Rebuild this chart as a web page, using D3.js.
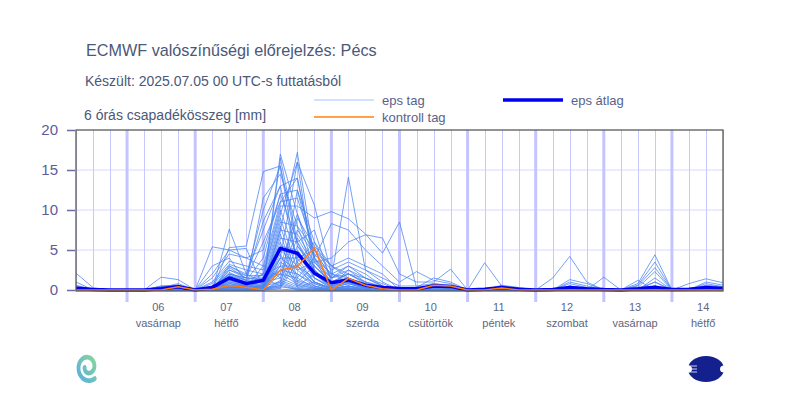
<!DOCTYPE html>
<html>
<head>
<meta charset="utf-8">
<script src="https://cdn.jsdelivr.net/npm/d3@7"></script>
<style>
    body {margin: 0; background: #fff;}
    svg {font-family: "Liberation Sans", Arial, sans-serif; display: block;}
    .title {fill: #4b5878; font-size: 16.2px;}
    .sub {fill: #4b5878; font-size: 14px;}
    .legend text {fill: #56628c; font-size: 13px;}
    .y-axis text {fill: #5c5c9c; font-size: 15px;}
    .y-axis line {stroke: #6a6aa0; stroke-width: 1.5;}
    .y-axis path {display: none;}
    .day text {fill: #5e6680; font-size: 11px; text-anchor: middle;}
</style>
</head>
<body>
<div id="chart"></div>
<script>
    // 6 hourly steps, from 2025.07.05 06 UTC
    let runStart = Date.UTC(2025, 6, 5, 6);
    let times = d3.range(39).map(function(i) { return new Date(runStart + i * 6 * 3600e3); });

    let dayNums = ["06", "07", "08", "09", "10", "11", "12", "13", "14"];
    let dayNames = ["vasárnap", "hétfő", "kedd", "szerda", "csütörtök", "péntek", "szombat", "vasárnap", "hétfő"];
    let yTicks = [0, 5, 10, 15, 20];

    let ensMean = [0.25,0.05,0,0,0,0.15,0.4, 0,0.3,1.5,0.8, 1.2,5.2,4.6,2.1, 0.9,1.25,0.6,0.3, 0.2,0.15,0.5,0.45,
        0,0.1,0.3,0.1, 0,0.05,0.3,0.15, 0.05,0,0.15,0.35, 0.05,0.1,0.3,0.2];

    let control = [0,0,0,0,0,0,0.4, 0,0.1,0.55,0.35, 0,2.5,2.9,5.3, 0,1.45,0.6,0.15, 0,0,0.6,0.5,
        0,0,0.25,0, 0,0,0,0, 0,0,0,0, 0,0,0,0];

    let members = [
        [2.1,0.3,0,0,0,0,0, 0,0,1.2,0.4, 0.5,17.0,9.5,2.5, 0.3,0.8,0.2,0, 0,0,0.4,0.2, 0,0,0.2,0, 0,0,0,0, 0,0,0,0.3, 0,0,0.2,0],
        [1.0,0,0,0,0,0,0.2, 0,0,0.8,0.3, 0.2,7.5,17.2,4.0, 0,0.5,0,0, 0,0,0.6,0.3, 0,0,0.3,0, 0,0,0,0, 0,0,0,0, 0,0,0.4,0.2],
        [0.6,0,0,0,0,0.4,0.6, 0,5.4,5.0,5.2, 0.3,16.5,6.0,1.5, 0.5,1.5,0.6,0, 0,0,0.5,0.4, 0,0,0.4,0.2, 0,0,0.3,0, 0,0,0,0.5, 0,0,0,0],
        [0.3,0,0,0,0,1.6,1.3, 0,0,7.6,2.0, 1.0,4.0,16.0,10.6, 2.0,1.0,0.3,0, 0,0,0.3,0.2, 0,0,0.5,0.3, 0,0,0,0, 0,0,0,0, 0,0,0,0],
        [0,0,0,0,0,0.5,0.4, 0,0,5.3,5.5, 14.8,15.5,3.0,1.0, 0.2,0.5,0,0, 0,0,0.8,0.5, 0,0,0.2,0, 0,0,0.5,0.2, 0,0,0.2,1.0, 0,0,0.3,0],
        [0,0,0,0,0,0.3,0.8, 0,3.0,4.0,1.0, 11.5,14.5,8.0,2.0, 0.5,2.5,1.0,0.5, 0,0,0.6,0.4, 0,0,0.3,0.2, 0,0,0,0, 0,0,0,0, 0,0,0.5,0.3],
        [0,0,0,0,0,0.2,0.5, 0,0,2.5,1.5, 8.6,13.0,14.0,3.5, 1.0,1.5,0.5,0, 0,0,0.5,0.3, 0,0,0.3,0, 0,0,0,0, 0,0,0,0, 0,0,0,0],
        [0,0,0,0,0,0,0.3, 0,2.0,5.0,4.0, 5.0,12.0,12.5,6.0, 1.5,3.0,1.5,0.8, 0,0,0.7,0.5, 0,0,0.6,0.3, 0,0,0,0, 0,0,0,0, 0,0,0,0],
        [0,0,0,0,0,0.2,0.3, 0,1.5,4.5,4.0, 3.0,11.0,11.5,5.0, 3.0,2.0,1.0,0.3, 0,0,0.4,0.3, 0,0,0.2,0, 0,0,0,0, 0,0,0,0.3, 0,0,0,0],
        [0,0,0,0,0,0,0, 0,1.0,3.6,3.0, 2.5,10.5,10.5,9.0, 9.8,8.9,7.0,4.6, 8.5,0.3,1.5,1.0, 0,0,0.3,0.2, 0,0,0,0, 0,0,0,0, 0,0,0,0],
        [0,0,0,0,0,0,0, 0,0.8,3.2,2.5, 2.0,10.0,4.0,5.0, 1.5,14.1,2.5,1.5, 0.5,0.5,0.8,0.6, 0,0,0.4,0.2, 0,0,0,0, 0,0,0,0, 0,0,0,0],
        [0,0,0,0,0,0,0.2, 0,0.5,3.0,1.8, 1.8,3.0,9.5,4.0, 8.3,7.5,5.0,3.0, 1.0,2.3,1.2,0.8, 0,0,0.3,0.2, 0,0,0,0, 0,0,0,0, 0,0,0,0],
        [0,0,0,0,0,0,0, 0,0,2.8,1.5, 1.5,9.0,2.5,3.5, 4.0,6.0,6.9,6.5, 2.0,1.0,1.0,2.6, 0,0,0.2,0, 0,0,0,0, 0,0,0,0, 0,0,0,0],
        [0,0,0,0,0,0,0, 0,0.5,2.0,1.5, 1.2,2.0,9.0,5.5, 3.0,4.0,3.0,2.0, 0,0,0.6,0.4, 0,0,0.2,0, 0,0,0,0, 0,0,0,0, 0,0,0.3,0],
        [0,0,0,0,0,0,0, 0,0,2.0,1.2, 1.0,8.5,8.0,5.0, 2.5,3.5,2.5,1.0, 0,0,0.5,0.3, 0,0,0.3,0.2, 0,0,0,0, 0,0,0,0, 0,0,0,0],
        [0,0,0,0,0,0,0, 0,0,1.8,1.0, 1.0,1.5,7.5,4.5, 2.0,3.0,2.0,0.5, 0,0,0.4,0.3, 0,0,0.2,0, 0,0,0,0, 0,0,0,0, 0,0,0,0],
        [0,0,0,0,0,0,0, 0,0,1.5,1.0, 0.8,8.0,1.5,4.0, 1.5,2.5,1.5,0.5, 0,0,0.6,0.5, 0,0,0.2,0, 0,0,0,0, 0,0,0,0, 0,0,0,0],
        [0,0,0,0,0,0,0, 0,0,1.5,0.8, 0.6,7.5,7.0,3.5, 1.5,2.0,1.0,0.3, 0,0,0.5,0.4, 0,3.4,0.5,0.2, 0,0,0,0, 0,0,0,0, 0,0,0,0],
        [0,0,0,0,0,0,0, 0,0,1.2,0.8, 0.5,1.0,6.5,3.0, 1.0,2.0,0.8,0, 0,0,0.4,0.3, 0,0,0.2,0, 0,1.5,4.2,1.0, 0,0,0,0, 0,0,0,0],
        [0,0,0,0,0,0,0, 0,0,1.0,0.6, 0.5,7.0,1.0,3.0, 1.0,1.5,0.5,0, 0,0,0.5,0.3, 0,0,0.3,0.2, 0,0,1.3,0.8, 0,0,0,0, 0,0,0,0],
        [0,0,0,0,0,0,0, 0,0,1.0,0.5, 0.4,6.5,6.0,2.5, 0.8,1.5,0.5,0, 0,0,0.6,0.4, 0,0,0.3,0, 0,0,1.0,0.5, 0,0,0,0, 0,0,0,0],
        [0,0,0,0,0,0,0, 0,0,0.8,0.5, 0.3,0.5,5.5,2.5, 0.5,1.0,0.3,0, 0,0,0.5,0.4, 0,0,0.2,0, 0,0,0.8,0.3, 0,0,0,0, 0,0,0,0],
        [0,0,0,0,0,0,0, 0,0,0.8,0.4, 0.3,6.0,0.5,2.0, 0.5,1.0,0.3,0, 0,0,0.4,0.3, 0,0,0.2,0, 0,0,0,0, 1.6,0,0.8,4.4, 0,0,0,0],
        [0,0,0,0,0,0,0, 0,0,0.6,0.3, 0.2,5.5,5.0,2.0, 0.3,0.8,0.2,0, 0,0,0.5,0.3, 0,0,0.2,0, 0,0,0,0, 0,0,0.6,3.5, 0,0,0,0],
        [0,0,0,0,0,0,0, 0,0,0.5,0.3, 0.2,0.3,4.5,1.5, 0.3,0.8,0.2,0, 0,0,0.4,0.3, 0,0,0.2,0, 0,0,0,0, 0,0,0.5,2.8, 0,0,0,0],
        [0,0,0,0,0,0,0, 0,0,0.5,0.2, 0.1,5.0,3.0,1.5, 0.2,0.5,0.2,0, 0,0,0.5,0.3, 0,0,0.3,0, 0,0,0,0, 0,0,0.3,2.3, 0,0,0,0],
        [0,0,0,0,0,0,0, 0,0,0.4,0.2, 0.1,4.5,0.3,1.0, 0.2,0.5,0.1,0, 0,0,0.6,0.3, 0,0,0.2,0, 0,0,0,0, 0,0,0,1.5, 0,0.8,1.4,0.9],
        [0,0,0,0,0,0,0, 0,0,0.3,0.2, 0,4.0,4.0,1.0, 0.2,0.3,0.1,0, 0,0,0.4,0.2, 0,0,0.2,0, 0,0,0,0, 0,0,0,1.0, 0,0,1.0,0.6],
        [0,0,0,0,0,0,0, 0,0,0.3,0.1, 0,0.2,3.5,1.0, 0.1,0.3,0,0, 0,0,0.5,0.2, 0,0,0.2,0, 0,0,0,0, 0,0,0,0.5, 0,0,0.8,0.4],
        [0,0,0,0,0,0,0, 0,0,0.2,0.1, 0,4.0,2.5,0.8, 0.1,0.2,0,0, 0,0,0.4,0.2, 0,0,0.2,0, 0,0,0,0, 0,0,0,0.3, 0,0,0.6,0.4],
        [0,0,0,0,0,0,0, 0,0,0.2,0, 0,3.5,2.0,0.8, 0,0.2,0,0, 0,0,0.3,0.2, 0,0,0,0, 0,0,0,0, 0,0,1.2,0, 0,0,0,0],
        [0,0,0,0,0,0,0, 0,0,0,0, 0,3.0,3.0,0.5, 0,0.2,0,0, 0,0,0.5,0.3, 0,0,0,0, 0,0,0,0, 0,0,0,0, 0,0,0,0],
        [0,0,0,0,0,0,0, 0,0,0,0, 0.5,3.0,1.2,0.5, 0,0,0,0, 0,0,0.4,0.2, 0,0,0,0, 0,0,0.5,0, 0,0,0,0, 0,0,0,0],
        [0,0,0,0,0,0.2,0.2, 0,0,0,0, 0.8,2.5,2.0,0.5, 0,0,0,0, 0,0,0.3,0.2, 0,0,0,0, 0,0,0,0, 0,0,0,0, 0,0,0,0],
        [0,0,0,0,0,0,0, 0,0,0.3,0.3, 1.2,2.5,1.0,0.3, 0,0,0,0, 0,0,0.2,0, 0,0,0,0, 0,0,0,0, 0,0,0,0, 0,0,0,0],
        [0,0,0,0,0,0,0, 0,0,0.5,0.5, 2.0,2.0,1.5,0.3, 0,0,0,0, 0,0,0.3,0.2, 0,0,0,0, 0,0,0,0, 0,0,0,0, 0,0,0,0],
        [0,0,0,0,0,0,0, 0,0,0,0, 0,2.0,0.8,0.2, 0,0,0,0, 0,0,0.2,0, 0,0,0,0, 0,0,0,0, 0,0,0,0, 0,0,0,0],
        [0,0,0,0,0,0,0, 0,0,0.6,0.4, 3.0,1.5,0.6,0.2, 0,0,0,0, 0,0,0,0, 0,0,0,0, 0,0,0,0, 0,0,0,0, 0,0,0,0],
        [0,0,0,0,0,0,0, 0,0,0,0, 0,1.2,0.4,0.1, 0,0,0,0, 0,0,0.3,0.2, 0,0,0,0, 0,0,0,0, 0,0,0,0, 0,0,0,0],
        [0,0,0,0,0,0,0, 0,0,0,0, 0,1.0,0.2,0.1, 0,0,0,0, 0,0,0,0, 0,0,0,0, 0,0,0,0, 0,0,0,0, 0,0,0,0],
        [0,0,0,0,0,0,0, 0,0,0,0, 0,0.8,0.1,0, 0,0,0,0, 0,0,0,0, 0,0,0,0, 0,0,0,0, 0,0,0,0, 0,0,0,0],
        [0,0,0,0,0,0,0, 0,0,0,0, 0,0.6,0,0, 0,0,0,0, 0,0,0,0, 0,0,0,0, 0,0,0,0, 0,0,0,0, 0,0,0,0],
        [0,0,0,0,0,0,0, 0,0,0,0, 0,0.4,0.1,0, 0,0,0,0, 0,0,0,0, 0,0,0,0, 0,0,0,0, 0,0,0,0, 0,0,0,0],
        [0,0,0,0,0,0,0, 0,0,0,0, 0,0.1,0,0, 0,0,0,0, 0,0,0,0, 0,0,0,0, 0,0,0,0, 0,0,0,0, 0,0,0,0],
        [0,0,0,0,0,0.3,0.5, 0,0,2.2,1.2, 4.0,12.0,6.0,7.5, 1.0,2.0,1.5,0.5, 0,0,0.6,0.4, 0,0,0.3,0, 0,0,0,0, 0,0,0,0, 0,0,0,0],
        [0,0,0,0,0,0.4,0.6, 0,0,3.0,2.0, 7.5,13.0,3.5,6.0, 3.0,1.5,0.5,0, 0,0,0.5,0.3, 0,0,0.3,0.2, 0,0,0,0, 0,0,0,0, 0,0,0,0],
        [0,0,0,0,0,0.2,0.3, 0,0,2.0,1.5, 6.0,11.0,14.0,4.0, 1.0,1.0,0.5,0, 0,0,0.5,0.3, 0,0,0.2,0, 0,0,0,0, 0,0,0,0, 0,0,0,0],
        [0,0,0,0,0,0.2,0.3, 0,0,1.5,1.0, 1.5,0.5,12.5,4.0, 2.0,1.5,0.8,0.2, 0,0,0.5,0.3, 0,0,0.2,0, 0,0,0,0, 0,0,0,0, 0,0,0,0],
        [0,0,0,0,0,0.3,0.4, 0,0,1.8,1.2, 2.0,9.5,16.0,2.0, 0.5,1.0,0.3,0, 0,0,0.4,0.3, 0,0,0.2,0, 0,0,0,0, 0,0,0,0, 0,0,0,0],
        [0.2,0,0,0,0,0.5,0.6, 0,0,2.5,1.8, 10.0,15.5,5.5,3.0, 0.8,1.2,0.5,0, 0,0,0.4,0.3, 0,0,0.2,0, 0,0,0,0, 0,0,0,0, 0,0,0,0]
    ];

    let width = 800, height = 398;
    let plot = {left: 76, right: 723, top: 130, bottom: 290};

    let x = d3.scaleUtc()
        .domain([times[0], times[times.length - 1]])
        .range([plot.left, plot.right]);

    let y = d3.scaleLinear()
        .domain([0, 20])
        .range([plot.bottom, plot.top]);

    let svg = d3.select("#chart").append("svg")
        .attr("width", width)
        .attr("height", height);

    // titles
    svg.append("text").attr("class", "title").attr("x", 86).attr("y", 56)
        .text("ECMWF valószínűségi előrejelzés: Pécs");
    svg.append("text").attr("class", "sub").attr("x", 85).attr("y", 86)
        .text("Készült: 2025.07.05 00 UTC-s futtatásból");
    svg.append("text").attr("class", "sub").attr("x", 84).attr("y", 119.5)
        .text("6 órás csapadékösszeg [mm]");

    // legend
    let legend = svg.append("g").attr("class", "legend");
    let legendItems = [
        {label: "eps tag", x: 314, y: 100, color: "#a6c2ff", w: 1},
        {label: "kontroll tag", x: 314, y: 117, color: "#ff8010", w: 1.5},
        {label: "eps átlag", x: 503, y: 100, color: "#0000f0", w: 3.5}
    ];
    legendItems.forEach(function(d) {
        legend.append("line")
            .attr("x1", d.x).attr("x2", d.x + 60)
            .attr("y1", d.y).attr("y2", d.y)
            .attr("stroke", d.color).attr("stroke-width", d.w);
        legend.append("text")
            .attr("x", d.x + 68).attr("y", d.y + 4.5)
            .text(d.label);
    });

    // grid
    let grid = svg.append("g");
    grid.selectAll(".hgrid")
        .data(yTicks.slice(1, -1))
        .enter().append("line")
        .attr("x1", plot.left).attr("x2", plot.right)
        .attr("y1", function(d) { return y(d); })
        .attr("y2", function(d) { return y(d); })
        .attr("stroke", "#d8d8ff").attr("stroke-width", 1);

    grid.selectAll(".vgrid")
        .data(times)
        .enter().append("line")
        .attr("x1", function(d) { return Math.round(x(d)) + 0.5; })
        .attr("x2", function(d) { return Math.round(x(d)) + 0.5; })
        .attr("y1", plot.top).attr("y2", plot.bottom)
        .attr("stroke", "#c8c8ff").attr("stroke-width", 1);

    let days = d3.utcDay.range(Date.UTC(2025, 6, 6), Date.UTC(2025, 6, 15));

    grid.selectAll(".dayline")
        .data(days)
        .enter().append("line")
        .attr("x1", function(d) { return x(d); })
        .attr("x2", function(d) { return x(d); })
        .attr("y1", plot.top).attr("y2", plot.bottom + 12)
        .attr("stroke", "#c4c4ff").attr("stroke-width", 3);

    // day labels
    let dayG = svg.append("g").attr("class", "day")
        .selectAll("g")
        .data(days)
        .enter().append("g")
        .attr("transform", function(d) { return "translate(" + x(d3.utcHour.offset(d, 11)) + ",0)"; });
    dayG.append("text").attr("y", 311).text(function(d, i) { return dayNums[i]; });
    dayG.append("text").attr("y", 327).text(function(d, i) { return dayNames[i]; });

    let line = d3.line()
        .x(function(d, i) { return x(times[i]); })
        .y(function(d) { return y(d); });

    svg.append("g")
        .selectAll("path")
        .data(members)
        .enter().append("path")
        .attr("d", line)
        .attr("fill", "none")
        .attr("stroke", "#4a84f2")
        .attr("stroke-opacity", 0.85)
        .attr("stroke-width", 0.9);

    svg.append("path")
        .attr("d", line(ensMean))
        .attr("fill", "none")
        .attr("stroke", "#0000f0")
        .attr("stroke-width", 3.5)
        .attr("stroke-linejoin", "round");

    svg.append("path")
        .attr("d", line(control))
        .attr("fill", "none")
        .attr("stroke", "#ff7a10")
        .attr("stroke-width", 1.5);

    // frame
    svg.append("rect")
        .attr("x", plot.left).attr("y", plot.top)
        .attr("width", plot.right - plot.left)
        .attr("height", plot.bottom - plot.top + 1)
        .attr("fill", "none")
        .attr("stroke", "#5a5a5a")
        .attr("stroke-width", 1.3);

    svg.append("g")
        .attr("class", "y-axis")
        .attr("transform", "translate(" + (plot.left - 1) + ",0)")
        .call(d3.axisLeft(y).tickValues(yTicks).tickSize(8).tickPadding(9));

    // logos
    let grad = svg.append("defs").append("linearGradient")
        .attr("id", "swirl").attr("x1", 0).attr("y1", 1).attr("x2", 1).attr("y2", 0);
    grad.append("stop").attr("offset", 0).attr("stop-color", "#5aaee0");
    grad.append("stop").attr("offset", 1).attr("stop-color", "#86d69a");

    let spiral = d3.lineRadial()
        .angle(function(d) { return d; })
        .radius(function(d) { return 16.5 - d * 1.15; })
        .curve(d3.curveCatmullRom);
    svg.append("path")
        .attr("transform", "translate(88,367) scale(0.85,1.05)")
        .attr("d", spiral(d3.range(Math.PI * 0.8, Math.PI * 3.5, 0.15)))
        .attr("fill", "none")
        .attr("stroke", "url(#swirl)")
        .attr("stroke-width", 4.5)
        .attr("stroke-linecap", "round");

    let logo = svg.append("g").attr("transform", "translate(706,369)");
    logo.append("ellipse").attr("rx", 18).attr("ry", 13).attr("fill", "#14208e");
    logo.append("ellipse").attr("cx", -18).attr("rx", 4).attr("ry", 3.5).attr("fill", "#fff");
    logo.append("ellipse").attr("cx", 18).attr("rx", 4).attr("ry", 3.5).attr("fill", "#fff");
    [-3, 0, 3].forEach(function(dy) {
        logo.append("line").attr("x1", -18).attr("x2", -9).attr("y1", dy).attr("y2", dy)
            .attr("stroke", "#fff").attr("stroke-width", 0.8);
    });
</script>
</body>
</html>
